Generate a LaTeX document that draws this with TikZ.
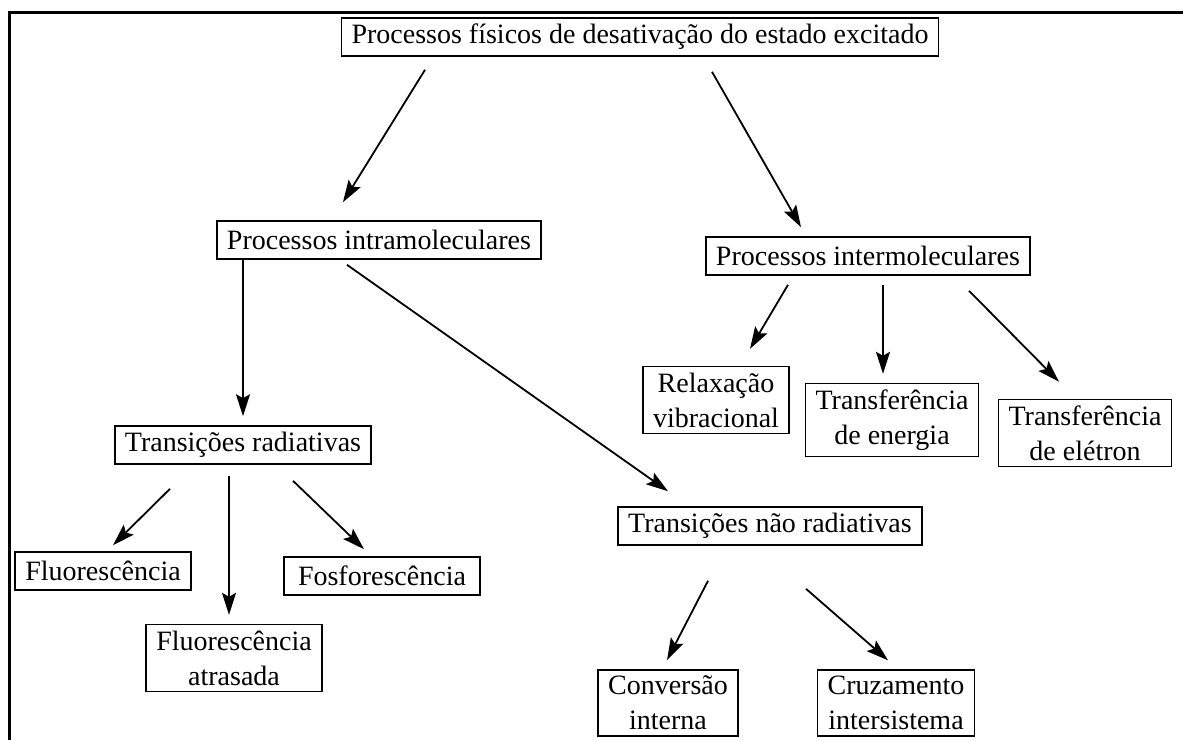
\documentclass[tikz,border=0pt]{standalone}
\usepackage{fontspec}
\setmainfont{Liberation Serif}
\usetikzlibrary{positioning, arrows.meta}

\begin{document}
\begin{tikzpicture}[
    x=0.5pt, y=-0.5pt,
    box/.style={draw, line width=0.8pt, inner xsep=5pt, inner ysep=3pt, minimum height=19pt, align=center, font=\fontsize{14}{17.5}\selectfont},
    arr/.style={draw, line width=0.9pt, -{Stealth[length=11pt, width=7pt, inset=2pt]}}
]
\useasboundingbox (0,0) rectangle (1183,740);
\draw[line width=1.5pt] (9,740) -- (9,12) -- (1183,12);

\node[box] (top) at (640,37) {Processos físicos de desativação do estado excitado};
\node[box] (intra) at (379,240) {Processos intramoleculares};
\node[box] (inter) at (868,256) {Processos intermoleculares};
\node[box] (rad) at (243,445) {Transições radiativas};
\node[box] (naorad) at (770,526) {Transições não radiativas};
\node[box] (fluor) at (103,571) {Fluorescência};
\node[box, minimum width=98pt] (fosfor) at (382,576) {Fosforescência};
\node[box] (atras) at (234,658) {Fluorescência\\atrasada};
\node[box] (conv) at (668,703) {Conversão\\interna};
\node[box] (cruz) at (896,703) {Cruzamento\\intersistema};
\node[box] (relax) at (716,400) {Relaxação\\vibracional};
\node[box] (energia) at (892,420) {Transferência\\de energia};
\node[box] (eletron) at (1085,433) {Transferência\\de elétron};

\draw[arr] ([shift={(-215,13)}]top.south) -- ([shift={(-36,-18)}]intra.north);
\draw[arr] ([shift={(72,15)}]top.south) -- ([shift={(-67,-9)}]inter.north);
\draw[arr] ([shift={(-136,0)}]intra.south) -- ([shift={(0,-9)}]rad.north);
\draw[arr] ([shift={(-32,5)}]intra.south) -- ([shift={(-102,-15)}]naorad.north);
\draw[arr] ([shift={(-80,9)}]inter.south) -- ([shift={(34,-17)}]relax.north);
\draw[arr] ([shift={(15,9)}]inter.south) -- ([shift={(-9,-9)}]energia.north);
\draw[arr] ([shift={(101,15)}]inter.south) -- ([shift={(-26,-17)}]eletron.north);
\draw[arr] ([shift={(-73,24)}]rad.south) -- ([shift={(10,-6)}]fluor.north);
\draw[arr] ([shift={(-14,11)}]rad.south) -- ([shift={(-5,-9)}]atras.north);
\draw[arr] ([shift={(50,16)}]rad.south) -- ([shift={(-18,-7)}]fosfor.north);
\draw[arr] ([shift={(-62,35)}]naorad.south) -- ([shift={(-1,-9)}]conv.north);
\draw[arr] ([shift={(36,43)}]naorad.south) -- ([shift={(-8,-9)}]cruz.north);
\end{tikzpicture}
\end{document}
